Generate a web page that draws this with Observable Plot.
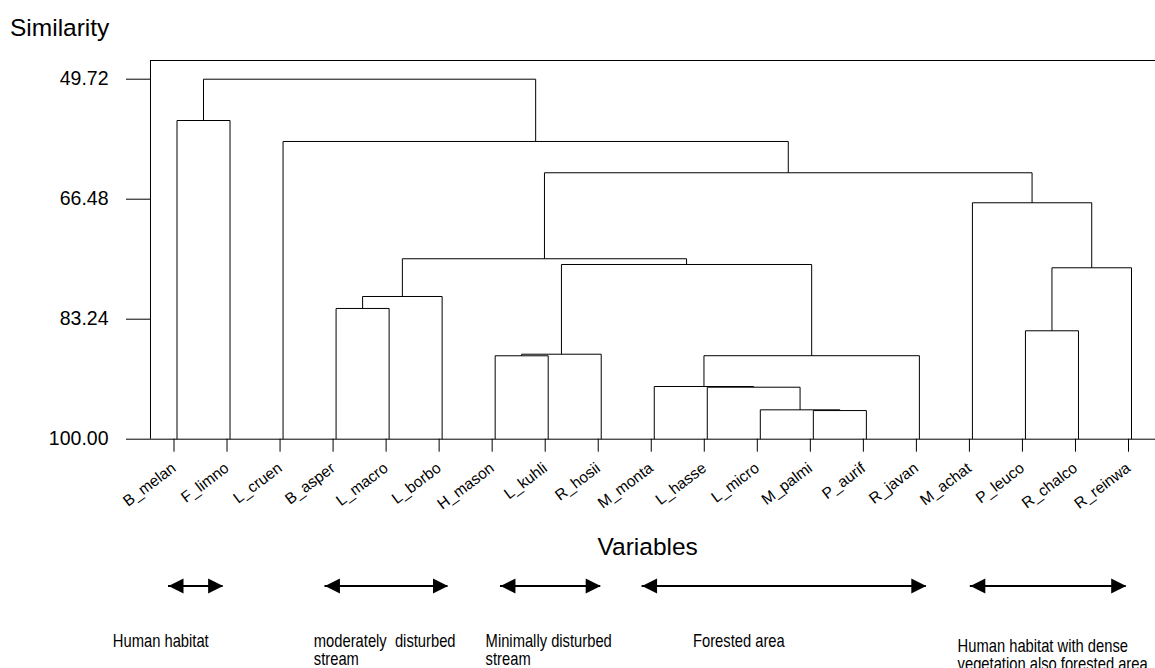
<!DOCTYPE html>
<html>
<head>
<meta charset="utf-8">
<script src="https://cdn.jsdelivr.net/npm/d3@7"></script>
<script src="https://cdn.jsdelivr.net/npm/@observablehq/plot@0.6"></script>
<style>
  html, body { margin: 0; padding: 0; background: #fff; overflow: hidden; }
  body { width: 1155px; height: 668px; font-family: "Liberation Sans", Arial, sans-serif; color: #000; }
  #ylab { height: 50px; box-sizing: border-box; padding-left: 10px; padding-top: 2.5px; font-size: 24.5px; line-height: 50px; white-space: nowrap; }
  #xlab { height: 40px; box-sizing: border-box; padding-left: 597.5px; padding-top: 7px; font-size: 24.5px; line-height: 40px; white-space: nowrap; }
  #tree svg, #groups svg { display: block; }
  #groups text { white-space: pre; }
</style>
</head>
<body>
<div id="ylab">Similarity</div>
<div id="tree"></div>
<div id="xlab">Variables</div>
<div id="groups"></div>
<script>
// Leaves (variables), in dendrogram order
const leaves = ["B_melan", "F_limno", "L_cruen", "B_asper", "L_macro", "L_borbo", "H_mason", "L_kuhli", "R_hosii",
  "M_monta", "L_hasse", "L_micro", "M_palmi", "P_aurif", "R_javan", "M_achat", "P_leuco", "R_chalco", "R_reinwa"];

// Merges: node ids 0..18 are leaves, merge k creates node 19+k
const mergeA = [12, 11, 10, 9, 22, 6, 24, 25, 3, 27, 28, 16, 30, 15, 29, 2, 0, 35];
const mergeB = [13, 19, 20, 21, 14, 7, 8, 23, 4, 5, 26, 17, 18, 31, 32, 33, 1, 34];
const mergeSimilarity = [96.0, 95.9, 92.74, 92.64, 88.34, 88.35, 88.13, 75.6, 81.74, 80.07, 74.8,
  84.86, 76.06, 66.98, 62.79, 58.42, 55.49, 49.72];

// Similarity axis
const yTicks = [49.72, 66.48, 83.24, 100.00];
const similarityTop = 47.11; // value at the top edge of the plot box

// Habitat groups (spans in leaf-position units)
const groupNames = ["Human habitat", "moderately  disturbed\nstream", "Minimally disturbed\nstream",
  "Forested area", "Human habitat with dense\nvegetation also forested area"];
const groupFrom = [-0.16, 2.79, 6.10, 8.77, 14.96];
const groupTo = [0.87, 5.11, 7.99, 14.13, 17.90];
const groupLabelAt = [-1.21, 2.58, 5.82, 9.73, 14.72];

// ---- build dendrogram segments
const n = leaves.length;
const baseline = d3.max(yTicks);
const nodeX = leaves.map((_, i) => i);
const nodeY = leaves.map(() => baseline);
const segs = [];
mergeA.forEach((a, k) => {
  const b = mergeB[k], h = mergeSimilarity[k];
  segs.push({x1: nodeX[a], y1: nodeY[a], x2: nodeX[a], y2: h});
  segs.push({x1: nodeX[b], y1: nodeY[b], x2: nodeX[b], y2: h});
  segs.push({x1: nodeX[a], y1: h, x2: nodeX[b], y2: h});
  nodeX.push((nodeX[a] + nodeX[b]) / 2);
  nodeY.push(h);
});

const xScale = {domain: [0, n - 1], range: [176.5, 1131]};
const font = '"Liberation Sans", Arial, sans-serif';

const tree = Plot.plot({
  width: 1155, height: 470,
  marginLeft: 150, marginRight: 0, marginTop: 10, marginBottom: 81.3,
  style: {fontFamily: font, background: "#fff", color: "#000"},
  x: {...xScale},
  y: {domain: [baseline, similarityTop]},
  marks: [
    Plot.ruleY([similarityTop, baseline], {stroke: "#000"}),
    Plot.ruleX([-0.5], {stroke: "#000"}),
    Plot.link(segs, {x1: "x1", y1: "y1", x2: "x2", y2: "y2", stroke: "#000", strokeWidth: 1}),
    Plot.axisY(yTicks, {tickSize: 24, tickPadding: 18, tickFormat: d => d.toFixed(2), fontSize: 19.5, label: null, stroke: "#000"}),
    Plot.axisX(d3.range(n), {tickSize: 13, tickPadding: 14, dx: -3, tickRotate: -37, tickFormat: i => leaves[i], fontSize: 15.5, label: null, stroke: "#000"})
  ]
});
document.getElementById("tree").append(tree);

// ---- habitat groups with double arrows
const groups = groupNames.map((name, i) => ({name, from: groupFrom[i], to: groupTo[i], labelAt: groupLabelAt[i]}));
const headRight = {draw(ctx, size) { const a = Math.sqrt(size) / 2; ctx.moveTo(a, 0); ctx.lineTo(-a, -a); ctx.lineTo(-a, a); ctx.closePath(); }};
const headLeft = {draw(ctx, size) { const a = Math.sqrt(size) / 2; ctx.moveTo(-a, 0); ctx.lineTo(a, -a); ctx.lineTo(a, a); ctx.closePath(); }};

const groupPlot = Plot.plot({
  width: 1155, height: 108,
  marginLeft: 0, marginRight: 0, marginTop: 0, marginBottom: 57,
  style: {fontFamily: font, background: "#fff", color: "#000"},
  x: {...xScale, axis: null},
  marks: [
    Plot.ruleY(groups, {x1: "from", x2: "to", y: null, stroke: "#000", strokeWidth: 2}),
    Plot.dot(groups, {x: "from", symbol: headLeft, r: 8.46, fill: "#000", stroke: null, dx: 7.5}),
    Plot.dot(groups, {x: "to", symbol: headRight, r: 8.46, fill: "#000", stroke: null, dx: -7.5}),
    Plot.text(groups.slice(0, 4), {x: "labelAt", text: "name", textAnchor: "start", frameAnchor: "bottom", lineAnchor: "top",
      dy: 22.5, fontSize: 18, lineHeight: 1.0, fill: "#000", className: "glabel"}),
    Plot.text(groups.slice(4), {x: "labelAt", text: "name", textAnchor: "start", frameAnchor: "bottom", lineAnchor: "top",
      dy: 28, fontSize: 18, lineHeight: 1.0, fill: "#000", className: "glabel"})
  ]
});
// condense the group labels horizontally (narrow typeface look)
groupPlot.querySelectorAll(".glabel text").forEach(t => {
  const tr = t.getAttribute("transform");
  if (tr) {
    t.setAttribute("transform", `${tr} scale(0.82,1)`);
  } else {
    const x = +t.getAttribute("x") || 0;
    t.setAttribute("x", 0);
    t.setAttribute("transform", `translate(${x},0) scale(0.82,1)`);
  }
});
document.getElementById("groups").append(groupPlot);
</script>
</body>
</html>
